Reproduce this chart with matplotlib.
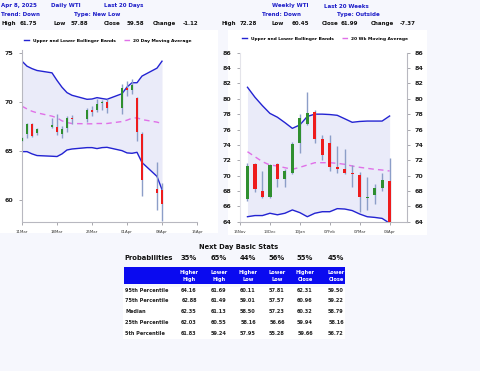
import datetime as dt
import matplotlib
matplotlib.use('Agg')
import matplotlib.pyplot as plt
import matplotlib.dates as mdates
from matplotlib.patches import Rectangle

# ---- daily data (last 20 days) ----
d_dates = ['2025-03-11', '2025-03-12', '2025-03-13', '2025-03-14', '2025-03-17',
           '2025-03-18', '2025-03-19', '2025-03-20', '2025-03-21', '2025-03-24',
           '2025-03-25', '2025-03-26', '2025-03-27', '2025-03-28', '2025-03-31',
           '2025-04-01', '2025-04-02', '2025-04-03', '2025-04-04', '2025-04-07',
           '2025-04-08']
d_open = [66.05, 66.72, 67.70, 66.80, 67.40, 67.43, 66.76, 67.36, 68.41, 68.31,
          69.22, 69.15, 69.90, 69.97, 69.43, 71.45, 71.18, 70.44, 66.69, 61.15, 61.05]
d_high = [66.40, 67.87, 67.87, 67.35, 68.40, 68.72, 67.57, 68.55, 68.70, 69.43,
          69.63, 70.27, 70.20, 70.27, 71.86, 72.13, 72.30, 70.50, 66.93, 63.92, 61.75]
d_low = [66.00, 66.28, 66.40, 66.65, 67.30, 66.62, 66.28, 66.96, 67.74, 67.97,
         68.55, 68.99, 69.15, 68.88, 68.82, 70.64, 70.78, 66.05, 60.45, 59.02, 57.88]
d_close = [66.35, 67.74, 66.50, 67.20, 67.60, 66.96, 67.23, 68.38, 68.28, 69.22,
           69.02, 69.76, 70.00, 69.43, 71.45, 71.18, 71.69, 66.96, 61.99, 60.70, 59.58]
d_upper = [74.16, 73.65, 73.40, 73.21, 72.97, 72.20, 71.50, 70.95, 70.68, 70.27,
           70.30, 70.44, 70.35, 70.27, 70.84, 71.52, 71.96, 71.96, 72.64, 73.45, 74.16]
d_lower = [64.93, 64.93, 64.70, 64.53, 64.46, 64.43, 64.70, 65.10, 65.20, 65.34,
           65.34, 65.24, 65.34, 65.37, 65.03, 64.80, 64.76, 64.86, 63.82, 62.40, 61.05]
d_ma = [69.56, 69.29, 69.05, 68.89, 68.55, 68.38, 68.07, 67.90, 67.80, 67.77,
        67.77, 67.80, 67.80, 67.80, 68.00, 68.14, 68.34, 68.38, 68.20, 67.94, 67.80]
d_ticks = ['2025-03-11', '2025-03-18', '2025-03-25', '2025-04-01', '2025-04-08', '2025-04-15']

# ---- weekly data (last 20 weeks) ----
w_dates = ['2024-11-22', '2024-11-29', '2024-12-06', '2024-12-13', '2024-12-20',
           '2024-12-27', '2025-01-03', '2025-01-10', '2025-01-17', '2025-01-24',
           '2025-01-31', '2025-02-07', '2025-02-14', '2025-02-21', '2025-02-28',
           '2025-03-07', '2025-03-14', '2025-03-21', '2025-03-28', '2025-04-04']
w_open = [66.91, 71.51, 68.04, 67.26, 71.51, 69.56, 70.38, 74.20, 76.69, 78.32,
          74.72, 74.29, 71.16, 70.82, 70.40, 70.08, 67.10, 67.47, 68.43, 69.36]
w_high = [71.60, 71.60, 70.64, 71.47, 71.60, 70.82, 74.42, 77.97, 80.84, 78.54,
          75.24, 75.24, 73.85, 73.42, 71.38, 70.51, 69.86, 68.91, 70.30, 72.28]
w_low = [66.74, 67.90, 67.13, 67.13, 68.56, 68.56, 70.21, 72.98, 76.59, 74.20,
         72.03, 70.64, 70.38, 70.17, 68.56, 65.30, 65.52, 66.30, 68.04, 60.45]
w_close = [71.25, 68.21, 67.26, 71.38, 69.56, 70.64, 74.11, 77.45, 78.10, 74.72,
           72.68, 71.08, 70.82, 70.38, 70.20, 67.17, 67.20, 68.43, 69.43, 61.99]
w_upper = [81.50, 80.20, 79.10, 78.10, 77.60, 76.90, 76.15, 76.60, 77.70, 78.00,
           78.00, 77.95, 77.85, 77.40, 76.94, 77.05, 77.10, 77.10, 77.10, 77.76]
w_lower = [64.65, 64.80, 64.80, 65.10, 64.90, 65.10, 65.53, 65.18, 64.65, 65.10,
           65.30, 65.30, 65.70, 65.65, 65.45, 65.00, 64.65, 64.56, 64.43, 63.80]
w_ma = [73.11, 72.46, 71.81, 71.38, 71.25, 71.03, 70.82, 71.08, 71.38, 71.68,
        71.68, 71.68, 71.60, 71.47, 71.25, 71.08, 70.95, 70.82, 70.73, 70.60]
w_ticks = ['2024-11-15', '2024-12-13', '2025-01-10', '2025-02-07', '2025-03-07', '2025-04-04']

# ---- next day stats table ----
prob_values = ['35%', '65%', '44%', '56%', '55%', '45%']
col_headers = [('Higher', 'High'), ('Lower', 'High'), ('Higher', 'Low'),
               ('Lower', 'Low'), ('Higher', 'Close'), ('Lower', 'Close')]
row_labels = ['95th Percentile', '75th Percentile', 'Median', '25th Percentile', '5th Percentile']
table_vals = [['64.16', '61.69', '60.11', '57.81', '62.31', '59.50'],
              ['62.88', '61.49', '59.01', '57.57', '60.96', '59.22'],
              ['62.35', '61.13', '58.50', '57.23', '60.32', '58.79'],
              ['62.03', '60.55', '58.16', '56.66', '59.94', '58.16'],
              ['61.83', '59.24', '57.95', '55.28', '59.66', '56.72']]

BLUE = '#2323d2'
MAGENTA = '#e070e8'
BAND = '#eaebf9'
GREEN = '#2f8f2f'
RED = '#ee1c1c'
WICK = '#8c9ec8'
TXT_BLUE = '#1c1cc8'
PAGE = '#f6f7fd'

W, H = 480, 371
fig = plt.figure(figsize=(4.8, 3.71), dpi=100)
fig.patch.set_facecolor(PAGE)


def fx(x):
    return x / W


def fy(y):
    return 1 - y / H


def panel(x0, y0, x1, y1):
    fig.add_artist(Rectangle((fx(x0), fy(y1)), fx(x1) - fx(x0), fy(y0) - fy(y1),
                             transform=fig.transFigure, facecolor='white',
                             edgecolor='none', zorder=-5))


panel(0, 30, 218, 233)
panel(228, 30, 427, 235)
panel(123, 287, 345, 339)


def to_num(lst):
    return [mdates.date2num(dt.datetime.strptime(s, '%Y-%m-%d')) for s in lst]


def candles(ax, x, o, h, l, c, width):
    for xi, oi, hi, li, ci in zip(x, o, h, l, c):
        ax.vlines(xi, li, hi, color=WICK, lw=1.0, zorder=3)
        col = GREEN if ci >= oi else RED
        ax.bar(xi, ci - oi, bottom=oi, width=width, color=col, zorder=4, linewidth=0)


def style(ax):
    for s in ax.spines.values():
        s.set_color('#b8b8c0')
        s.set_linewidth(0.8)
    ax.tick_params(colors='#9a9aa0', length=2.5, width=0.6)
    for lab in ax.get_yticklabels():
        lab.set_fontsize(4.6)
        lab.set_fontweight('bold')
        lab.set_color('#222222')
    for lab in ax.get_xticklabels():
        lab.set_fontsize(2.8)
        lab.set_color('#333333')


# ---- daily chart ----
ax1 = fig.add_axes([fx(22), fy(221.5), fx(197) - fx(22), (221.5 - 50.5) / H])
xd = to_num(d_dates)
ax1.fill_between(xd, d_lower, d_upper, color=BAND, lw=0, zorder=1)
ax1.plot(xd, d_upper, color=BLUE, lw=1.0, zorder=2, label='Upper and Lower Bollinger Bands')
ax1.plot(xd, d_lower, color=BLUE, lw=1.0, zorder=2)
ax1.plot(xd, d_ma, color=MAGENTA, lw=1.0, ls=(0, (4, 3)), zorder=2, label='20 Day Moving Average')
candles(ax1, xd, d_open, d_high, d_low, d_close, 0.6)
ax1.set_xlim(to_num(['2025-03-11'])[0], to_num(['2025-04-15'])[0])
ax1.set_ylim(57.8, 75.25)
ax1.set_yticks([60, 65, 70, 75])
ax1.set_xticks(to_num(d_ticks))
ax1.xaxis.set_major_formatter(mdates.DateFormatter('%d%b'))
ax1.spines['top'].set_visible(False)
ax1.spines['right'].set_visible(False)
style(ax1)
ax1.legend(loc='lower left', bbox_to_anchor=(0.0, 1.035), ncol=2, frameon=False,
           handlelength=1.2, columnspacing=2.0, borderaxespad=0,
           prop={'weight': 'bold', 'size': 3.2})

# ---- weekly chart ----
ax2 = fig.add_axes([fx(240), fy(221.7), fx(406.7) - fx(240), (221.7 - 52.7) / H])
xw = to_num(w_dates)
ax2.fill_between(xw, w_lower, w_upper, color=BAND, lw=0, zorder=1)
ax2.plot(xw, w_upper, color=BLUE, lw=1.0, zorder=2, label='Upper and Lower Bollinger Bands')
ax2.plot(xw, w_lower, color=BLUE, lw=1.0, zorder=2)
ax2.plot(xw, w_ma, color=MAGENTA, lw=1.0, ls=(0, (4, 3)), zorder=2, label='20 Wk Moving Average')
candles(ax2, xw, w_open, w_high, w_low, w_close, 3.0)
ax2.set_xlim(to_num(['2024-11-15'])[0], to_num(['2025-04-20'])[0])
ax2.set_ylim(64, 86)
ax2.set_yticks(range(64, 87, 2))
ax2.set_xticks(to_num(w_ticks))
ax2.xaxis.set_major_formatter(mdates.DateFormatter('%d%b'))
ax2.tick_params(axis='y', left=True, right=True, labelleft=True, labelright=True)
ax2.spines['top'].set_visible(False)
style(ax2)
ax2.spines['left'].set_color('#e4e4ea')
ax2.legend(loc='lower left', bbox_to_anchor=(0.0, 1.06), ncol=2, frameon=False,
           handlelength=1.2, columnspacing=2.0, borderaxespad=0,
           prop={'weight': 'bold', 'size': 3.2})

# ---- header text ----
hs = 3.95


def t(x, y, s, color=TXT_BLUE, size=hs, ha='left'):
    fig.text(fx(x), fy(y), s, color=color, fontsize=size, fontweight='bold', ha=ha, va='center')


t(1, 6, 'Apr 8, 2025')
t(51, 6, 'Daily WTI')
t(104, 6, 'Last 20 Days')
t(1, 14.7, 'Trend: Down')
t(74, 14.7, 'Type: New Low')
t(272, 6, 'Weekly WTI')
t(324, 6, 'Last 20 Weeks')
t(262, 14.7, 'Trend: Down')
t(337, 14.7, 'Type: Outside')
for x, s in [(1, 'High'), (20, '61.75'), (53, 'Low'), (71, '57.88'), (104, 'Close'),
             (127, '59.58'), (153, 'Change'), (183, '-1.12'), (221, 'High'), (240, '72.28'),
             (272, 'Low'), (292, '60.45'), (322, 'Close'), (341, '61.99'), (371, 'Change'),
             (400, '-7.37')]:
    t(x, 23.3, s, color='#111111')

# ---- stats table ----
col_x = [189, 219, 248, 277, 305, 336]
t(238.5, 247.5, 'Next Day Basic Stats', color='#111111', size=4.9, ha='center')
t(124, 257.7, 'Probabilities', color='#111111', size=4.9)
for x, s in zip(col_x, prob_values):
    t(x, 257.7, s, color='#111111', size=4.9, ha='center')
fig.add_artist(Rectangle((fx(124), fy(284.3)), fx(345) - fx(124), (284.3 - 267.3) / H,
                         transform=fig.transFigure, facecolor='#0a0af0', edgecolor='none'))
for x, (a, b) in zip(col_x, col_headers):
    t(x, 272.5, a, color='white', size=3.6, ha='center')
    t(x, 279.5, b, color='white', size=3.6, ha='center')
row_y = [290, 300.7, 311.3, 322.3, 333.3]
for y, lab, vals in zip(row_y, row_labels, table_vals):
    t(125, y, lab, color='#222222', size=3.6)
    for x, v in zip(col_x, vals):
        t(x, y, v, color='#222222', size=3.6, ha='center')

fig.savefig('out.png', dpi=100, facecolor=PAGE)
